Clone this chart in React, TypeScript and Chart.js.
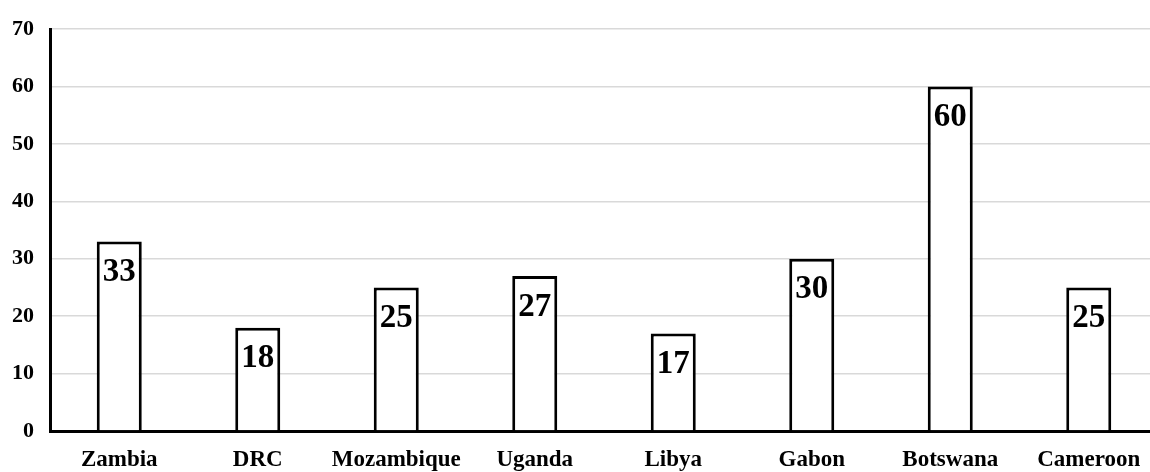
import React, { useEffect, useRef } from "react";
import { Chart, registerables } from "chart.js";

Chart.register(...registerables);

const categories = ["Zambia", "DRC", "Mozambique", "Uganda", "Libya", "Gabon", "Botswana", "Cameroon"];
const values = [33, 18, 25, 27, 17, 30, 60, 25];
const yTicks = [0, 10, 20, 30, 40, 50, 60, 70];

const FONT = "'Liberation Serif', 'Times New Roman', serif";

const labelPlugin = {
  id: "barLabels",
  afterDatasetsDraw(chart: any) {
    const ctx = chart.ctx;
    const meta = chart.getDatasetMeta(0);
    ctx.save();
    ctx.font = `bold 33px ${FONT}`;
    ctx.fillStyle = "#000";
    ctx.textAlign = "center";
    ctx.textBaseline = "middle";
    meta.data.forEach((bar: any, i: number) => {
      ctx.fillText(String(values[i]), bar.x, bar.y + 31);
    });
    ctx.restore();
  },
};

export default function App() {
  const ref = useRef<HTMLCanvasElement>(null);
  useEffect(() => {
    document.body.style.margin = "0";
    document.body.style.overflow = "hidden";
    const chart = new Chart(ref.current!, {
      type: "bar",
      data: {
        labels: categories,
        datasets: [
          {
            data: values,
            backgroundColor: "#ffffff",
            borderColor: "#000000",
            borderWidth: 3,
            borderSkipped: "bottom",
            categoryPercentage: 1,
            barPercentage: 0.325,
          },
        ],
      },
      options: {
        animation: false,
        responsive: false,
        maintainAspectRatio: false,
        layout: { padding: { top: 26, right: 2, left: 0, bottom: 0 } },
        plugins: { legend: { display: false }, tooltip: { enabled: false } },
        scales: {
          x: {
            grid: { display: false, drawTicks: false },
            border: { color: "#000", width: 3 },
            ticks: {
              color: "#000",
              font: { family: FONT, size: 23, weight: "bold" },
              padding: 15,
              maxRotation: 0,
              autoSkip: false,
            },
            afterFit: (s: any) => {
              s.height = 41;
            },
          },
          y: {
            min: 0,
            max: 70,
            afterBuildTicks: (s: any) => {
              s.ticks = yTicks.map((v) => ({ value: v }));
            },
            grid: { color: "#d9d9d9", lineWidth: 1.5, drawTicks: false },
            border: { color: "#000", width: 3 },
            ticks: {
              color: "#000",
              font: { family: FONT, size: 22, weight: "bold" },
              padding: 16,
            },
            afterFit: (s: any) => {
              s.width = 50;
            },
          },
        },
      },
      plugins: [labelPlugin],
    });
    return () => chart.destroy();
  }, []);
  return (
    <div style={{ width: 1150, height: 472, overflow: "hidden", position: "relative" }}>
      <canvas ref={ref} width={1160} height={472} style={{ position: "absolute", left: 0, top: 0 }} />
    </div>
  );
}
